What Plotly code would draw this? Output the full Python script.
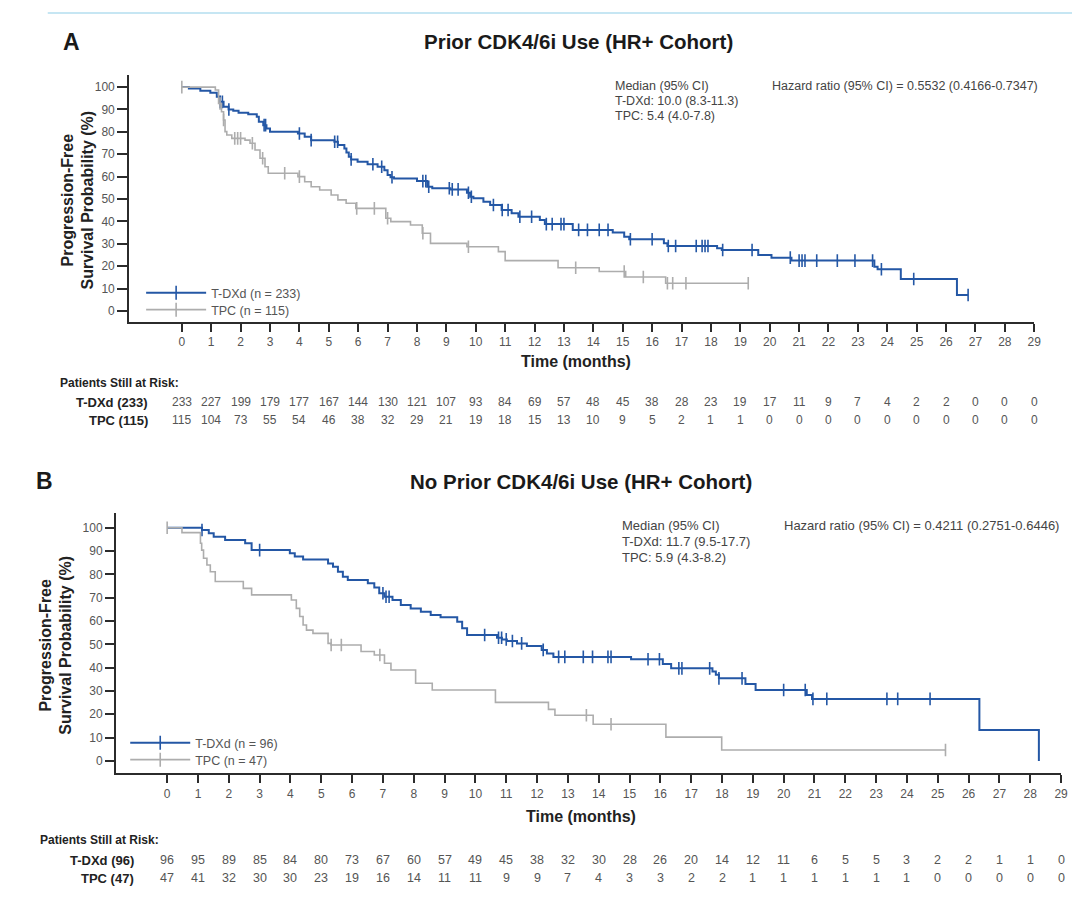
import plotly.graph_objects as go

# page body has an 8px default margin; the figure is sized to fill the rest of the window
OFF = 8
W, H = 1080 - OFF, 914 - OFF
months = list(range(30))

# ---------------- Panel A data (Prior CDK4/6i use) ----------------
a_tdxd_t = [0, 0.24, 0.63, 0.97, 1.19, 1.30, 1.42, 1.59, 1.75, 1.93, 2.26, 2.55, 2.62, 2.77, 2.88, 3.0,
            3.95, 4.18, 4.40, 5.19, 5.31, 5.53, 5.60, 5.68, 5.76, 5.98, 6.32, 6.66, 6.89, 7.0, 7.1, 7.22,
            8.0, 8.35, 8.52, 9.14, 9.70, 9.81, 9.92, 10.26, 10.49, 10.88, 11.22, 11.45, 12.18, 12.35,
            13.30, 14.66, 15.05, 15.22, 16.40, 16.52, 18.21, 18.37, 19.61, 20.06, 20.74, 23.56, 23.67,
            24.46, 26.37]
a_tdxd_s = [100, 99.4, 98.4, 97.5, 95.7, 93.4, 91.2, 90.0, 89.4, 88.5, 87.9, 86.7, 84.5, 83.0, 81.5, 80.1,
            79.3, 77.8, 76.3, 75.6, 74.1, 72.6, 70.8, 68.9, 67.7, 66.7, 65.5, 64.4, 62.9, 60.7, 59.7, 59.2,
            58.0, 55.5, 54.8, 54.3, 52.8, 51.0, 50.3, 48.8, 47.3, 45.1, 43.6, 42.1, 40.6, 38.8,
            36.2, 35.0, 33.2, 32.0, 30.2, 29.0, 28.0, 27.2, 25.0, 23.8, 22.5, 19.8, 18.6,
            14.3, 7.1]
a_tdxd_cens = [1.30, 1.38, 1.60, 2.80, 2.85, 4.0, 4.4, 5.2, 5.3, 5.76, 6.5, 6.8, 7.15, 8.2, 8.3, 8.4,
               9.1, 9.2, 9.4, 9.75, 9.85, 10.6, 10.9, 11.1, 11.5, 11.9, 12.4, 12.6, 12.9, 13.0, 13.5,
               13.8, 14.2, 14.5, 15.26, 16.0, 16.55, 16.8, 17.5, 17.7, 17.8, 17.9, 18.4, 19.4, 20.7,
               21.0, 21.1, 21.2, 21.6, 22.3, 22.9, 23.5, 23.8, 24.9, 26.75]

a_tpc_t = [0, 1.14, 1.25, 1.35, 1.42, 1.47, 1.53, 1.70, 2.15, 2.32, 2.49, 2.66, 2.83, 2.94, 3.95, 4.18,
           4.40, 4.69, 5.08, 5.31, 5.59, 5.92, 6.94, 7.11, 7.78, 8.18, 8.46, 9.70, 10.77, 11.0, 12.80,
           14.20, 15.10, 16.46]
a_tpc_s = [100, 98.7, 92.7, 89.0, 85.3, 80.1, 78.6, 77.1, 76.3, 74.9, 71.9, 68.2, 64.4, 61.5, 60.0, 57.7,
           55.5, 54.0, 51.8, 49.6, 48.1, 45.8, 41.4, 39.9, 38.4, 34.7, 30.2, 28.7, 26.5, 22.5, 19.3,
           17.6, 15.2, 12.4]
a_tpc_cens = [0, 1.3, 1.42, 1.8, 1.9, 2.0, 2.4, 2.75, 3.5, 4.0, 5.95, 6.55, 7.0, 8.2, 9.75, 13.4,
              15.05, 15.7, 16.52, 16.7, 17.15, 19.27]

a_risk_tdxd = [233, 227, 199, 179, 177, 167, 144, 130, 121, 107, 93, 84, 69, 57, 48, 45, 38, 28, 23, 19,
               17, 11, 9, 7, 4, 2, 2, 0, 0, 0]
a_risk_tpc = [115, 104, 73, 55, 54, 46, 38, 32, 29, 21, 19, 18, 15, 13, 10, 9, 5, 2, 1, 1,
              0, 0, 0, 0, 0, 0, 0, 0, 0, 0]

# ---------------- Panel B data (No prior CDK4/6i use) ----------------
b_tdxd_t = [0, 1.13, 1.35, 1.51, 1.88, 2.53, 2.74, 3.98, 4.14, 4.41, 5.22, 5.38, 5.54, 5.70, 5.86, 6.51,
            6.72, 6.88, 7.05, 7.31, 7.58, 7.90, 8.23, 8.55, 8.87, 9.41, 9.57, 9.73, 10.70, 10.86, 11.02,
            11.35, 11.67, 12.15, 12.32, 12.53, 15.05, 16.08, 16.35, 17.69, 17.80, 17.90, 18.76, 19.09,
            20.75, 20.92, 26.35, 28.28]
b_tdxd_s = [100, 99.0, 97.6, 96.1, 94.7, 93.3, 90.4, 89.0, 87.6, 86.4, 84.7, 83.3, 81.1, 79.0, 77.6, 76.2,
            74.4, 71.9, 70.4, 69.0, 66.9, 65.4, 64.0, 62.6, 61.6, 59.7, 56.9, 54.0, 52.8, 52.1, 51.4,
            50.4, 49.3, 47.6, 46.1, 44.6, 43.6, 41.6, 39.7, 38.3, 36.9, 35.4, 33.0, 30.4,
            28.3, 26.6, 13.3, 0]
b_tdxd_cens = [1.13, 3.0, 7.0, 7.1, 7.2, 10.3, 10.75, 10.85, 11.0, 11.2, 11.5, 12.2, 12.7, 12.9, 13.5,
               13.8, 14.3, 14.4, 15.6, 15.97, 16.6, 16.7, 17.6, 17.9, 18.65, 20.0, 20.7, 20.95, 21.4,
               23.35, 23.7, 24.75]

b_tpc_t = [0, 0.48, 1.08, 1.12, 1.18, 1.29, 1.40, 1.56, 2.47, 2.74, 4.03, 4.19, 4.30, 4.41, 4.52, 4.73,
           5.22, 5.32, 6.29, 6.72, 7.05, 7.26, 8.06, 8.60, 10.65, 12.37, 12.58, 13.82, 16.18, 17.99]
b_tpc_s = [100, 97.9, 93.3, 90.4, 86.9, 84.0, 81.1, 76.9, 74.0, 71.2, 69.0, 65.4, 61.9, 58.3, 56.1, 54.7,
           50.4, 49.7, 46.9, 45.4, 41.9, 39.0, 33.3, 30.4, 25.1, 22.1, 19.6, 15.7, 10.2, 4.7]
b_tpc_cens = [0, 5.32, 5.65, 6.9, 13.6, 14.4, 25.25]

b_risk_tdxd = [96, 95, 89, 85, 84, 80, 73, 67, 60, 57, 49, 45, 38, 32, 30, 28, 26, 20, 14, 12,
               11, 6, 5, 5, 3, 2, 2, 1, 1, 0]
b_risk_tpc = [47, 41, 32, 30, 30, 23, 19, 16, 14, 11, 11, 9, 9, 7, 4, 3, 3, 2, 2, 1,
              1, 1, 1, 1, 1, 0, 0, 0, 0, 0]

BLUE = "#2457a5"
GRAY = "#adadad"
FONT = "Liberation Sans, Arial, sans-serif"
CENSOR_SIZE = 9


def step_value(t, s, x):
    cur = s[0]
    for ti, si in zip(t, s):
        if ti <= x:
            cur = si
    return cur


def px_x(p):
    return (p - OFF) / W


def px_y(p):
    return 1 - (p - OFF) / H


fig = go.Figure()


def add_curve(t, s, cens, color, width, name, xa, ya, leg):
    last = max(max(t), max(cens))
    xs = list(t) + ([last] if last > max(t) else [])
    ys = list(s) + ([s[-1]] if last > max(t) else [])
    fig.add_trace(go.Scatter(x=xs, y=ys, mode="lines", line=dict(color=color, width=width, shape="hv"),
                             xaxis=xa, yaxis=ya, showlegend=False, hoverinfo="skip"))
    fig.add_trace(go.Scatter(x=cens, y=[step_value(t, s, c) for c in cens], mode="markers",
                             marker=dict(symbol="line-ns-open", size=CENSOR_SIZE, color=color,
                                         line=dict(color=color, width=1.6)),
                             xaxis=xa, yaxis=ya, showlegend=False, hoverinfo="skip"))
    # legend-only entry (no data drawn)
    fig.add_trace(go.Scatter(x=[None], y=[None], mode="lines+markers", name=name,
                             line=dict(color=color, width=width),
                             marker=dict(symbol="line-ns-open", size=10, color=color,
                                         line=dict(color=color, width=1.6)),
                             xaxis=xa, yaxis=ya, legend=leg, showlegend=True))


add_curve(a_tdxd_t, a_tdxd_s, a_tdxd_cens, BLUE, 2, "T-DXd (n = 233)", "x", "y", "legend")
add_curve(a_tpc_t, a_tpc_s, a_tpc_cens, GRAY, 1.6, "TPC (n = 115)", "x", "y", "legend2")
add_curve(b_tdxd_t, b_tdxd_s, b_tdxd_cens, BLUE, 2, "T-DXd (n = 96)", "x2", "y2", "legend3")
add_curve(b_tpc_t, b_tpc_s, b_tpc_cens, GRAY, 1.6, "TPC (n = 47)", "x2", "y2", "legend4")

axis_common = dict(showline=True, linecolor="#2b2b2b", linewidth=2, ticks="outside",
                   tickcolor="#2b2b2b", tickwidth=1.5, showgrid=False,
                   zeroline=False, tickfont=dict(family=FONT, size=12, color="#555555"))

fig.update_layout(
    xaxis=dict(domain=[px_x(130), px_x(1041)], range=[-1.79, 29.0], tickmode="array",
               tickvals=months, anchor="y", ticklen=8, **axis_common),
    yaxis=dict(domain=[px_y(321.7), px_y(75)], range=[-4.8, 105.4], tickmode="array",
               tickvals=list(range(0, 101, 10)), anchor="x", ticklen=10, **axis_common),
    xaxis2=dict(domain=[px_x(116.7), px_x(1068)], range=[-1.66, 29.0], tickmode="array",
                tickvals=months, anchor="y2", ticklen=8, **axis_common),
    yaxis2=dict(domain=[px_y(773.3), px_y(513)], range=[-5.3, 106.3], tickmode="array",
                tickvals=list(range(0, 101, 10)), anchor="x2", ticklen=9, **axis_common),
)

ann = []


def text(x, y, s, size=12, color="#444444", bold=False, xanchor="left", angle=0, xref="paper"):
    ann.append(dict(x=x, y=y, xref=xref, yref="paper", text=("<b>%s</b>" % s) if bold else s,
                    showarrow=False, xanchor=xanchor, yanchor="middle", textangle=angle,
                    font=dict(family=FONT, size=size, color=color)))


# Panel A texts
text(px_x(72), px_y(42), "A", size=23, color="#1a1a1a", bold=True, xanchor="center")
text(px_x(582), px_y(42), "Prior CDK4/6i Use (HR+ Cohort)", size=20.5, color="#1a1a1a", bold=True,
     xanchor="center")
text(px_x(78), px_y(200), "Progression-Free<br>Survival Probability (%)", size=16, color="#222222",
     bold=True, xanchor="center", angle=-90)
text(px_x(580), px_y(361), "Time (months)", size=16, color="#222222", bold=True, xanchor="center")
text(px_x(617), px_y(86), "Median (95% CI)", size=12.5)
text(px_x(617), px_y(101), "T-DXd: 10.0 (8.3-11.3)", size=12.5)
text(px_x(617), px_y(116), "TPC: 5.4 (4.0-7.8)", size=12.5)
text(px_x(775), px_y(86), "Hazard ratio (95% CI) = 0.5532 (0.4166-0.7347)", size=12.5)
text(px_x(58), px_y(383), "Patients Still at Risk:", size=12, color="#222222", bold=True)
text(px_x(151), px_y(402), "T-DXd (233)", size=13, color="#222222", bold=True, xanchor="right")
text(px_x(151), px_y(420), "TPC (115)", size=13, color="#222222", bold=True, xanchor="right")
for m, v in zip(months, a_risk_tdxd):
    text(m, px_y(402), str(v), size=12, color="#555555", xanchor="center", xref="x")
for m, v in zip(months, a_risk_tpc):
    text(m, px_y(420), str(v), size=12, color="#555555", xanchor="center", xref="x")

# Panel B texts
text(px_x(45), px_y(481), "B", size=23, color="#1a1a1a", bold=True, xanchor="center")
text(px_x(585), px_y(481), "No Prior CDK4/6i Use (HR+ Cohort)", size=20.5, color="#1a1a1a", bold=True,
     xanchor="center")
text(px_x(56), px_y(645), "Progression-Free<br>Survival Probability (%)", size=16, color="#222222",
     bold=True, xanchor="center", angle=-90)
text(px_x(585), px_y(816), "Time (months)", size=16, color="#222222", bold=True, xanchor="center")
text(px_x(624), px_y(525), "Median (95% CI)", size=13)
text(px_x(624), px_y(541), "T-DXd: 11.7 (9.5-17.7)", size=13)
text(px_x(624), px_y(557), "TPC: 5.9 (4.3-8.2)", size=13)
text(px_x(787), px_y(525), "Hazard ratio (95% CI) = 0.4211 (0.2751-0.6446)", size=13)
text(px_x(38), px_y(840), "Patients Still at Risk:", size=12, color="#222222", bold=True)
text(px_x(137), px_y(860), "T-DXd (96)", size=13, color="#222222", bold=True, xanchor="right")
text(px_x(137), px_y(878), "TPC (47)", size=13, color="#222222", bold=True, xanchor="right")
for m, v in zip(months, b_risk_tdxd):
    text(m, px_y(860), str(v), size=12.5, color="#555555", xanchor="center", xref="x2")
for m, v in zip(months, b_risk_tpc):
    text(m, px_y(878), str(v), size=12.5, color="#555555", xanchor="center", xref="x2")

legend_common = dict(bgcolor="rgba(0,0,0,0)", borderwidth=0,
                     font=dict(family=FONT, size=12.5, color="#555555"), xanchor="left",
                     yanchor="middle", tracegroupgap=0, itemwidth=60)

fig.update_layout(
    width=W, height=H, autosize=False,
    margin=dict(l=0, r=0, t=0, b=0),
    paper_bgcolor="white", plot_bgcolor="white",
    annotations=ann,
    showlegend=True,
    legend=dict(x=px_x(142), y=px_y(293), **legend_common),
    legend2=dict(x=px_x(142), y=px_y(310), **legend_common),
    legend3=dict(x=px_x(126), y=px_y(743), **legend_common),
    legend4=dict(x=px_x(126), y=px_y(760), **legend_common),
    shapes=[dict(type="line", xref="paper", yref="paper", x0=px_x(48), x1=1, y0=px_y(13),
                 y1=px_y(13), line=dict(color="#c6e6f3", width=2))],
)

fig.write_html("out.html")
